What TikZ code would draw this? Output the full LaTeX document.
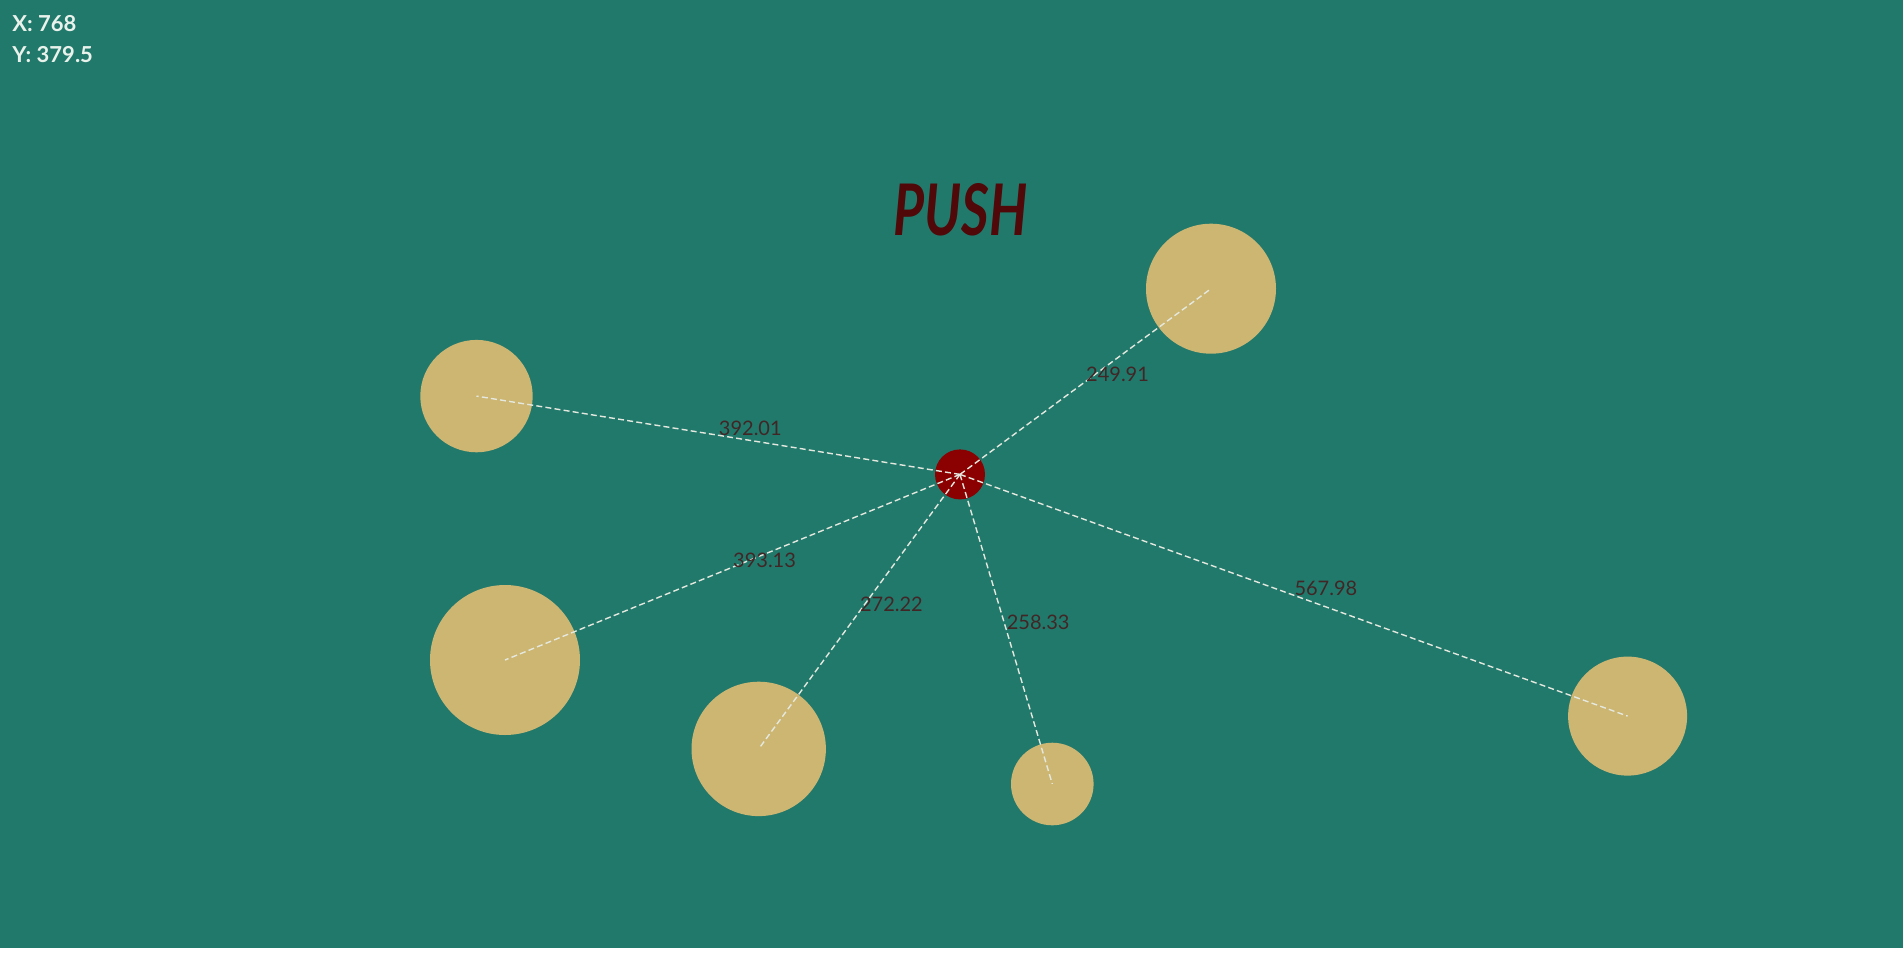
\documentclass[tikz,border=0pt]{standalone}
\usepackage{fontspec}
\setmainfont{Lato}
\definecolor{bgteal}{RGB}{33,121,108}
\definecolor{ballsand}{RGB}{205,181,114}
\definecolor{hubred}{RGB}{139,0,0}
\definecolor{pushred}{RGB}{80,8,8}
\definecolor{distgray}{RGB}{66,38,38}
\definecolor{dashwhite}{RGB}{228,232,222}
\definecolor{readout}{RGB}{234,242,236}

\begin{document}
\begin{tikzpicture}[x=.5pt,y=-.5pt,line width=.35pt,
  ball/.style={circle,fill=ballsand,inner sep=0pt},
  link/.style={draw=dashwhite,line width=.7pt,dash pattern=on 3pt off 1.6pt},
  dist/.style={text=distgray,font=\fontsize{10pt}{12pt}\selectfont,inner sep=0pt,anchor=base west}]
\fill[white] (0,0) rectangle (1903,954);\fill[bgteal] (0,0) rectangle (1903,948);
\useasboundingbox (0,0) rectangle (1903,954);
% readout of the hub position
\node[anchor=base west,inner sep=0pt,text=readout,font=\fontsize{11pt}{13pt}\selectfont\bfseries] (xread) at (12,31) {X: 768};
\node[anchor=base west,inner sep=0pt,text=readout,font=\fontsize{11pt}{13pt}\selectfont\bfseries] (yread) at (12,62) {Y: 379.5};
\node[anchor=south west,inner sep=0pt,text=pushred] (push) at (893,236) {\resizebox{67pt}{26pt}{\bfseries\itshape PUSH}};
% balls and hub
\node[ball,minimum size=65pt] (b1) at (1211,288.7) {};
\node[ball,minimum size=56.2pt] (b2) at (476.5,396.1) {};
\node[ball,minimum size=75pt] (b3) at (505,660) {};
\node[ball,minimum size=67.2pt] (b4) at (758.7,748.9) {};
\node[ball,minimum size=41.3pt] (b5) at (1052.3,784) {};
\node[ball,minimum size=59.5pt] (b6) at (1627.6,716.1) {};
\node[circle,fill=hubred,inner sep=0pt,minimum size=25pt] (hub) at (960,474.4) {};
% distances
\path[link] (hub.center) -- (b1.center) node[dist,midway] (d1) {249.91};
\path[link] (hub.center) -- (b2.center) node[dist,midway] (d2) {392.01};
\path[link] (hub.center) -- (b3.center) node[dist,midway] (d3) {393.13};
\path[link] (hub.center) -- (b4.center) node[dist,midway] (d4) {272.22};
\path[link] (hub.center) -- (b5.center) node[dist,midway] (d5) {258.33};
\path[link] (hub.center) -- (b6.center) node[dist,midway] (d6) {567.98};
\end{tikzpicture}
\end{document}
